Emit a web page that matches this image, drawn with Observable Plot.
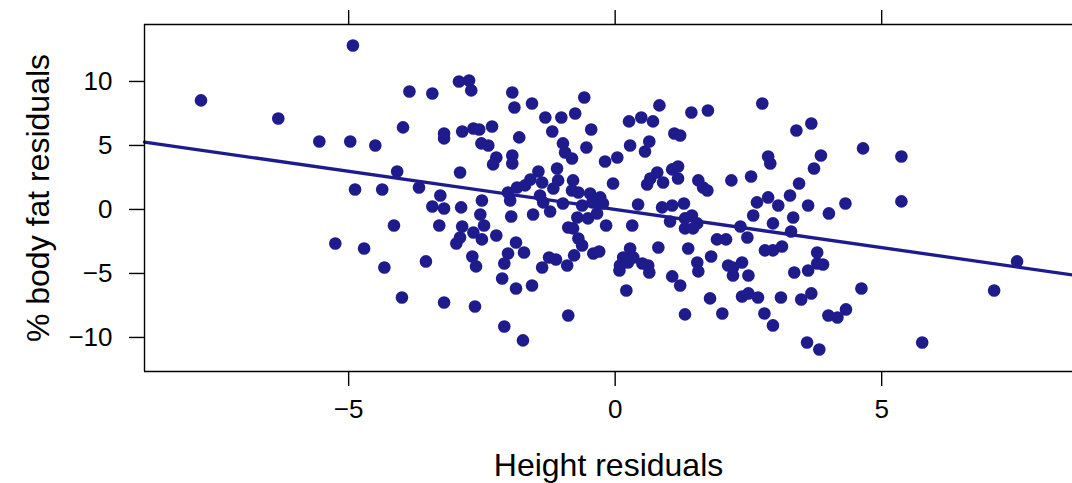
<!DOCTYPE html>
<html>
<head>
<meta charset="utf-8">
<script src="https://cdn.jsdelivr.net/npm/d3@7"></script>
<script src="https://cdn.jsdelivr.net/npm/@observablehq/plot@0.6"></script>
<style>
  html, body { margin: 0; padding: 0; background: #fff; }
  #chart { width: 1072px; height: 483px; }
</style>
</head>
<body>
<div id="chart"></div>
<script>
// Height residuals (x) and % body fat residuals (y)
const heightResid = [
  -7.77,-4.92,-6.32,-5.55,-4.97,-4.50,-4.88,-4.37,-5.25,-4.71,-4.33,
  -3.86,-3.43,-2.93,-2.74,-2.70,-1.93,-1.89,-1.56,-0.58,-1.31,-1.01,-0.75,
  -3.98,-3.21,-3.21,-2.87,-2.66,-2.55,-2.31,-1.80,-1.18,-0.45,-2.51,-2.38,
  -2.23,-2.29,-1.93,-1.93,-0.98,-0.94,-0.81,-0.54,-0.19,0.04,-4.09,-2.91,
  -3.68,-3.28,-3.43,-3.21,-2.89,-2.50,-2.53,-1.97,-1.95,-1.54,-1.22,-0.04,
  -1.44,-1.09,-1.59,-1.37,-1.07,-1.16,-0.79,-2.01,-1.84,-1.69,-1.41,-1.35,
  -0.81,-0.69,-0.47,-0.28,-0.62,-0.43,-0.23,-0.98,-0.71,-0.51,-0.34,-0.17,
  -0.88,-0.79,
  -4.15,-3.55,-4.00,-3.21,-2.63,-3.30,-2.87,-2.91,-2.98,-2.66,-2.50,-2.46,
  -2.23,-1.86,-2.01,-2.08,-1.71,-2.68,-2.61,-2.12,-1.86,-1.56,-1.37,-1.24,
  -1.11,-0.90,-0.77,-0.41,-0.30,-0.88,-2.08,-1.73,-0.69,-0.62,
  0.83,0.26,0.49,0.71,1.43,1.74,2.76,3.40,3.68,1.11,1.22,0.28,0.64,0.56,
  2.87,2.91,3.86,3.73,3.45,3.28,0.79,0.66,0.60,0.90,1.07,1.18,1.18,1.56,
  1.65,1.73,2.18,2.55,0.43,0.88,1.07,1.29,2.66,2.87,3.06,3.62,2.59,3.34,
  4.01,4.32,
  1.03,0.32,1.31,1.44,1.54,1.31,1.46,2.35,2.48,1.91,2.08,2.96,3.30,0.28,
  0.81,1.37,2.81,2.96,3.13,3.79,
  0.15,0.09,0.08,0.24,0.34,0.51,0.62,0.64,1.80,1.54,1.56,1.07,1.22,0.21,
  2.12,2.21,2.38,2.21,2.50,3.79,3.90,3.36,3.62,1.78,2.38,2.50,2.68,3.11,
  3.49,3.68,1.31,2.01,2.80,2.96,4.00,4.17,4.33,3.60,3.83,
  4.65,5.37,5.37,7.54,4.62,7.11,5.76
];
const fatResid = [
  8.52,12.81,7.11,5.31,5.31,5.00,1.56,1.56,-2.66,-3.05,-4.53,
  9.22,9.06,10.00,10.08,9.30,9.14,7.97,8.28,8.75,7.19,7.19,7.50,
  6.41,5.94,5.55,6.09,6.33,6.25,6.48,5.63,6.09,6.25,5.16,5.00,
  4.06,3.52,4.22,3.59,5.16,4.45,3.98,4.84,3.75,4.06,2.97,2.89,
  1.72,1.09,0.23,0.08,0.16,0.70,-0.39,0.70,-0.55,-0.39,-0.16,2.03,
  2.97,3.20,2.34,2.11,2.27,1.64,2.27,1.33,1.72,1.88,1.09,0.55,
  1.48,1.33,1.25,0.94,0.31,0.55,0.47,0.47,-0.63,-0.70,-0.31,-1.25,
  -1.41,-1.48,
  -1.25,-4.06,-6.88,-7.27,-7.58,-1.25,-1.33,-2.19,-2.66,-1.80,-2.34,-1.25,
  -2.03,-2.58,-3.44,-4.22,-3.36,-3.67,-4.45,-5.39,-6.17,-5.94,-4.53,-3.75,
  -3.91,-4.38,-3.59,-3.44,-3.28,-8.28,-9.14,-10.23,-2.27,-2.81,
  8.13,6.88,7.19,6.88,7.58,7.73,8.28,6.17,6.72,5.94,5.78,5.00,5.31,4.53,
  4.14,3.59,4.22,3.20,2.03,1.09,2.89,2.42,1.95,2.11,3.13,3.36,2.42,2.27,
  1.72,1.48,2.27,2.58,0.39,0.16,0.31,0.47,0.55,0.94,0.31,0.31,-0.47,-0.63,
  -0.31,0.47,
  -0.94,-1.25,-0.70,-0.47,-1.09,-1.48,-1.48,-1.33,-2.19,-2.34,-2.34,-1.09,-1.72,-3.05,
  -2.97,-3.05,-3.20,-3.20,-2.89,-3.36,
  -3.75,-4.38,-4.77,-4.14,-3.75,-4.22,-4.38,-4.92,-3.67,-4.14,-4.84,-5.23,-5.94,-6.33,
  -4.38,-4.53,-4.14,-5.16,-5.16,-4.22,-4.30,-4.92,-4.77,-6.95,-6.80,-6.56,-6.88,-6.88,
  -7.03,-6.56,-8.20,-8.13,-8.13,-9.06,-8.28,-8.44,-7.81,-10.39,-10.94,
  4.77,4.14,0.63,-4.06,-6.17,-6.33,-10.39
];

// Fitted line
const fitIntercept = 0.0;
const fitSlope = -0.596;

// Axis settings
const xTicks = [-5, 0, 5];
const yTicks = [-10, -5, 0, 5, 10];
const xDomain = [-8.83, 8.58];
const yDomain = [-12.66, 14.45];
const xLabel = "Height residuals";
const yLabel = "% body fat residuals";

const color = "#1e1b8c";
const points = heightResid.map((x, i) => ({x, y: fatResid[i]}));
const fitLine = xDomain.map(x => ({x, y: fitIntercept + fitSlope * x}));

const chart = Plot.plot({
  width: 1072,
  height: 483,
  marginLeft: 144,
  marginRight: 0,
  marginTop: 24,
  marginBottom: 112,
  style: {fontFamily: "'Liberation Sans', Arial, Helvetica, sans-serif", fontSize: "26px", color: "#000", background: "#fff"},
  x: {domain: xDomain},
  y: {domain: yDomain},
  marks: [
    Plot.dot(points, {x: "x", y: "y", r: 6.3, fill: color, stroke: "none"}),
    Plot.line(fitLine, {x: "x", y: "y", stroke: color, strokeWidth: 3.3}),
    Plot.ruleX([xDomain[0]], {stroke: "#000", strokeWidth: 1.4}),
    Plot.ruleY(yDomain, {stroke: "#000", strokeWidth: 1.4}),
    Plot.axisX({anchor: "bottom", ticks: xTicks, tickSize: 15, tickPadding: 13, strokeWidth: 1.4, label: null}),
    Plot.axisX({anchor: "top", ticks: xTicks, tickSize: 15, tickFormat: () => "", strokeWidth: 1.4, label: null}),
    Plot.axisY({anchor: "left", ticks: yTicks, tickSize: 15, tickPadding: 17, strokeWidth: 1.4, label: null}),
    Plot.text([xLabel], {frameAnchor: "bottom", dy: 94, lineAnchor: "middle", textAnchor: "middle", fontSize: 32, fill: "#000"}),
    Plot.text([yLabel], {frameAnchor: "left", dx: -106, rotate: -90, lineAnchor: "middle", textAnchor: "middle", fontSize: 32, fill: "#000"})
  ]
});
document.getElementById("chart").appendChild(chart);
</script>
</body>
</html>
